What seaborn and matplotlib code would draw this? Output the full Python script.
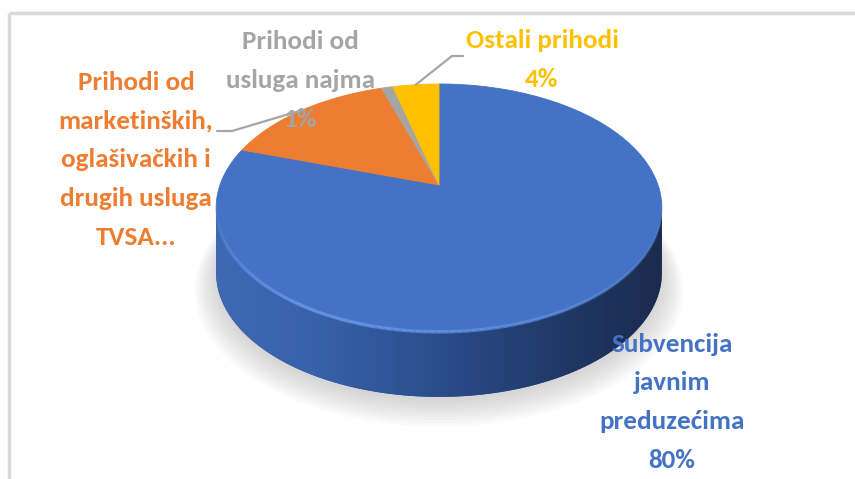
import numpy as np
import matplotlib
matplotlib.use("Agg")
import matplotlib.pyplot as plt
import seaborn as sns
from matplotlib.transforms import Transform, Affine2D
from matplotlib.path import Path
from matplotlib.patches import Polygon
from matplotlib.collections import LineCollection
from matplotlib.colors import LinearSegmentedColormap, to_rgba

# chart data (clockwise from 12 o'clock)
categories = ["Subvencija\njavnim\npreduzećima",
              "Prihodi od\nmarketinških,\noglašivačkih i\ndrugih usluga\nTVSA...",
              "Prihodi od\nusluga najma",
              "Ostali prihodi"]
shares = [80, 15, 1, 4]
show_pct = [True, False, True, True]
colors = ["#4472C4", "#ED7D31", "#A5A5A5", "#FFC000"]

# label layout in pixels: centre x, baseline of last line
label_pos = [(672, 468), (136, 245), (300, 127), (542, 87)]

# disc geometry in pixels
CX, CY = 439, 185      # apex of the wedges
RX, RY = 219, 119.7
TILT = 0.185           # perspective strength
DEPTH = 65             # thickness of the disc


class Tilt(Transform):
    # cheap perspective for a disc leaning away from the viewer
    input_dims = 2
    output_dims = 2

    def __init__(self, k):
        super().__init__()
        self.k = k

    def transform_non_affine(self, values):
        values = np.asarray(values, dtype=float)
        d = 1 + self.k * values[:, 1]
        return np.column_stack([values[:, 0] / d, values[:, 1] / d])

    def transform_path_non_affine(self, path):
        # flatten curves first so the arcs bend properly
        pts = []
        t = np.linspace(0, 1, 24)
        for seg, code in path.iter_bezier():
            pts.append(np.atleast_2d(seg(t)))
        pts = np.vstack(pts)
        return Path(self.transform_non_affine(pts), closed=True)


sns.set_theme(style="white")
plt.rcParams["font.family"] = ["Carlito", "Lato", "DejaVu Sans"]

fig = plt.figure(figsize=(8.55, 4.79), dpi=100)
ax = fig.add_axes([0, 0, 1, 1])

to_px = Tilt(TILT) + Affine2D().scale(RX, -RY).translate(CX, CY)

# top face
wedges, _ = ax.pie(shares, colors=colors, startangle=90, counterclock=False,
                   wedgeprops=dict(linewidth=0.6))
for w, c in zip(wedges, colors):
    w.set_edgecolor(c)
    w.set_transform(to_px + ax.transData)
    w.set_zorder(4)

ax.set_aspect("auto")
ax.set_xlim(0, 855)
ax.set_ylim(479, 0)
ax.axis("off")

# rim of the disc and the visible side band
th = np.linspace(0, 2 * np.pi, 1441)
rim = to_px.transform(np.column_stack([np.cos(th), np.sin(th)]))
iL = np.argmin(rim[:, 0])
iR = np.argmax(np.where(th > np.pi, rim[:, 0], -1e9))
front = rim[iL:iR + 1]
side_pts = np.vstack([front, front[::-1] + [0, DEPTH]])

# soft shadow under the disc
for i in range(9):
    s = 1 + 0.012 * i
    sh = (rim + [0, DEPTH + 4]) - [CX, CY + 23]
    sh = sh * s + [CX, CY + 23 + i * 0.9]
    ax.add_patch(Polygon(sh, closed=True, facecolor="grey", alpha=0.04,
                         edgecolor="none", zorder=1))

side_patch = Polygon(side_pts, closed=True, facecolor="#2A4A85",
                     edgecolor="none", zorder=2)
ax.add_patch(side_patch)
side_cmap = LinearSegmentedColormap.from_list(
    "side", ["#4069B4", "#3660A8", "#2B4D8C", "#213A6A", "#1B2B4E"])
grad = np.linspace(0, 1, 256).reshape(1, -1)
im = ax.imshow(grad, cmap=side_cmap, aspect="auto", zorder=3,
               extent=(side_pts[:, 0].min(), side_pts[:, 0].max(),
                       side_pts[:, 1].max(), side_pts[:, 1].min()))
im.set_clip_path(side_patch)
ax.set_xlim(0, 855)
ax.set_ylim(479, 0)

# light bevel along the front edge
segs = np.stack([front[:-1], front[1:]], axis=1)
pos = np.linspace(0, 1, len(segs))
alpha = np.clip(np.sin(np.pi * pos) * 1.2, 0, 1) * np.clip(1.3 - pos, 0, 1)
hl = [to_rgba("#6C9CEC", a * 0.9) for a in alpha]
ax.add_collection(LineCollection(segs, colors=hl, linewidths=2.4, zorder=5))

# leader lines from wedge middles
starts = np.cumsum([0] + shares[:-1])
mids = 90 - (starts + np.array(shares) / 2) / sum(shares) * 360
anchor = to_px.transform(np.column_stack([np.cos(np.radians(mids)),
                                          np.sin(np.radians(mids))]))
ax.plot([217, 232, anchor[1, 0]], [131, 131, anchor[1, 1]],
        color="#A6A6A6", lw=1.6, zorder=6)
ax.plot([anchor[3, 0], 452, 463], [anchor[3, 1], 56, 56],
        color="#A6A6A6", lw=1.6, zorder=6)

# data labels
for name, val, pct, c, (x, y) in zip(categories, shares, show_pct, colors,
                                      label_pos):
    txt = f"{name}\n{val}%" if pct else name
    ax.text(x, y, txt, color=c, fontsize=19.5, fontweight="bold",
            ha="center", va="baseline", multialignment="center",
            linespacing=1.83, zorder=7)

# chart-area border, cut off on the right and bottom
ax.plot([9, 860], [13, 13], color="#D9D9D9", lw=2.5, zorder=0,
        solid_capstyle="butt")
ax.plot([9, 9], [13, 485], color="#D9D9D9", lw=2.5, zorder=0,
        solid_capstyle="butt")

fig.savefig("out.png", dpi=100)
